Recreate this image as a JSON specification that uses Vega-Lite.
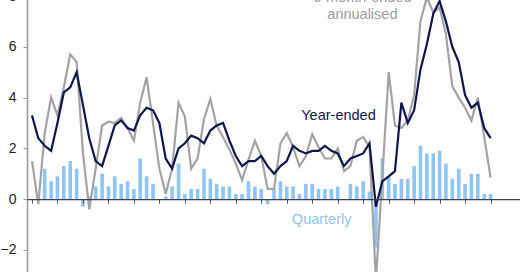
{
  "$schema": "https://vega.github.io/schema/vega-lite/v6.json",
  "width": 493,
  "height": 276,
  "autosize": {"type": "none"},
  "padding": {"left": 27, "top": -4, "right": 0, "bottom": 0},
  "background": "white",
  "config": {
    "view": {"stroke": null},
    "font": "Liberation Sans"
  },
  "datasets": {
    "cpi": [
      {"date": "2006-12-01", "yearEnded": 3.3, "quarterly": 0.0, "sixMonth": 1.5},
      {"date": "2007-03-01", "yearEnded": 2.4, "quarterly": 0.1, "sixMonth": -0.2},
      {"date": "2007-06-01", "yearEnded": 2.1, "quarterly": 1.2, "sixMonth": 2.6},
      {"date": "2007-09-01", "yearEnded": 1.9, "quarterly": 0.7, "sixMonth": 4.0},
      {"date": "2007-12-01", "yearEnded": 3.0, "quarterly": 0.9, "sixMonth": 3.3},
      {"date": "2008-03-01", "yearEnded": 4.2, "quarterly": 1.3, "sixMonth": 4.4},
      {"date": "2008-06-01", "yearEnded": 4.4, "quarterly": 1.5, "sixMonth": 5.7},
      {"date": "2008-09-01", "yearEnded": 5.0, "quarterly": 1.2, "sixMonth": 5.4},
      {"date": "2008-12-01", "yearEnded": 3.7, "quarterly": -0.3, "sixMonth": 1.8},
      {"date": "2009-03-01", "yearEnded": 2.4, "quarterly": 0.1, "sixMonth": -0.4},
      {"date": "2009-06-01", "yearEnded": 1.5, "quarterly": 0.5, "sixMonth": 1.2},
      {"date": "2009-09-01", "yearEnded": 1.3, "quarterly": 1.0, "sixMonth": 2.9},
      {"date": "2009-12-01", "yearEnded": 2.1, "quarterly": 0.5, "sixMonth": 3.05},
      {"date": "2010-03-01", "yearEnded": 2.9, "quarterly": 0.9, "sixMonth": 3.0},
      {"date": "2010-06-01", "yearEnded": 3.1, "quarterly": 0.6, "sixMonth": 3.2},
      {"date": "2010-09-01", "yearEnded": 2.8, "quarterly": 0.7, "sixMonth": 2.8},
      {"date": "2010-12-01", "yearEnded": 2.7, "quarterly": 0.4, "sixMonth": 2.3},
      {"date": "2011-03-01", "yearEnded": 3.3, "quarterly": 1.6, "sixMonth": 3.8},
      {"date": "2011-06-01", "yearEnded": 3.6, "quarterly": 0.9, "sixMonth": 4.8},
      {"date": "2011-09-01", "yearEnded": 3.5, "quarterly": 0.6, "sixMonth": 3.0},
      {"date": "2011-12-01", "yearEnded": 3.0, "quarterly": 0.0, "sixMonth": 1.2},
      {"date": "2012-03-01", "yearEnded": 1.6, "quarterly": 0.1, "sixMonth": 0.2},
      {"date": "2012-06-01", "yearEnded": 1.2, "quarterly": 0.5, "sixMonth": 1.2},
      {"date": "2012-09-01", "yearEnded": 2.0, "quarterly": 1.4, "sixMonth": 3.8},
      {"date": "2012-12-01", "yearEnded": 2.2, "quarterly": 0.2, "sixMonth": 3.25},
      {"date": "2013-03-01", "yearEnded": 2.5, "quarterly": 0.4, "sixMonth": 1.2},
      {"date": "2013-06-01", "yearEnded": 2.4, "quarterly": 0.4, "sixMonth": 1.6},
      {"date": "2013-09-01", "yearEnded": 2.2, "quarterly": 1.2, "sixMonth": 3.15},
      {"date": "2013-12-01", "yearEnded": 2.7, "quarterly": 0.8, "sixMonth": 3.95},
      {"date": "2014-03-01", "yearEnded": 2.9, "quarterly": 0.6, "sixMonth": 2.9},
      {"date": "2014-06-01", "yearEnded": 3.0, "quarterly": 0.5, "sixMonth": 2.45},
      {"date": "2014-09-01", "yearEnded": 2.3, "quarterly": 0.5, "sixMonth": 1.95},
      {"date": "2014-12-01", "yearEnded": 1.7, "quarterly": 0.2, "sixMonth": 1.4},
      {"date": "2015-03-01", "yearEnded": 1.3, "quarterly": 0.2, "sixMonth": 0.75},
      {"date": "2015-06-01", "yearEnded": 1.5, "quarterly": 0.7, "sixMonth": 1.55},
      {"date": "2015-09-01", "yearEnded": 1.5, "quarterly": 0.5, "sixMonth": 2.3},
      {"date": "2015-12-01", "yearEnded": 1.7, "quarterly": 0.4, "sixMonth": 1.7},
      {"date": "2016-03-01", "yearEnded": 1.3, "quarterly": -0.2, "sixMonth": 0.4},
      {"date": "2016-06-01", "yearEnded": 1.0, "quarterly": 0.4, "sixMonth": 0.4},
      {"date": "2016-09-01", "yearEnded": 1.3, "quarterly": 0.7, "sixMonth": 2.2},
      {"date": "2016-12-01", "yearEnded": 1.5, "quarterly": 0.5, "sixMonth": 2.6},
      {"date": "2017-03-01", "yearEnded": 2.1, "quarterly": 0.5, "sixMonth": 2.05},
      {"date": "2017-06-01", "yearEnded": 1.9, "quarterly": 0.2, "sixMonth": 1.3},
      {"date": "2017-09-01", "yearEnded": 1.8, "quarterly": 0.6, "sixMonth": 1.7},
      {"date": "2017-12-01", "yearEnded": 1.9, "quarterly": 0.6, "sixMonth": 2.55},
      {"date": "2018-03-01", "yearEnded": 1.9, "quarterly": 0.4, "sixMonth": 2.05},
      {"date": "2018-06-01", "yearEnded": 2.1, "quarterly": 0.4, "sixMonth": 1.6},
      {"date": "2018-09-01", "yearEnded": 1.9, "quarterly": 0.4, "sixMonth": 1.6},
      {"date": "2018-12-01", "yearEnded": 1.8, "quarterly": 0.5, "sixMonth": 2.0},
      {"date": "2019-03-01", "yearEnded": 1.3, "quarterly": 0.0, "sixMonth": 1.1},
      {"date": "2019-06-01", "yearEnded": 1.6, "quarterly": 0.6, "sixMonth": 1.3},
      {"date": "2019-09-01", "yearEnded": 1.7, "quarterly": 0.5, "sixMonth": 2.3},
      {"date": "2019-12-01", "yearEnded": 1.8, "quarterly": 0.7, "sixMonth": 2.45},
      {"date": "2020-03-01", "yearEnded": 2.2, "quarterly": 0.3, "sixMonth": 2.05},
      {"date": "2020-06-01", "yearEnded": -0.3, "quarterly": -1.9, "sixMonth": -3.2},
      {"date": "2020-09-01", "yearEnded": 0.7, "quarterly": 1.6, "sixMonth": 0.9},
      {"date": "2020-12-01", "yearEnded": 0.9, "quarterly": 0.9, "sixMonth": 5.0},
      {"date": "2021-03-01", "yearEnded": 1.1, "quarterly": 0.6, "sixMonth": 2.9},
      {"date": "2021-06-01", "yearEnded": 3.8, "quarterly": 0.8, "sixMonth": 2.8},
      {"date": "2021-09-01", "yearEnded": 3.0, "quarterly": 0.8, "sixMonth": 3.1},
      {"date": "2021-12-01", "yearEnded": 3.5, "quarterly": 1.3, "sixMonth": 4.1},
      {"date": "2022-03-01", "yearEnded": 5.1, "quarterly": 2.1, "sixMonth": 7.0},
      {"date": "2022-06-01", "yearEnded": 6.1, "quarterly": 1.8, "sixMonth": 7.95},
      {"date": "2022-09-01", "yearEnded": 7.3, "quarterly": 1.8, "sixMonth": 7.35},
      {"date": "2022-12-01", "yearEnded": 7.8, "quarterly": 1.9, "sixMonth": 7.55},
      {"date": "2023-03-01", "yearEnded": 7.0, "quarterly": 1.4, "sixMonth": 6.5},
      {"date": "2023-06-01", "yearEnded": 6.0, "quarterly": 0.8, "sixMonth": 4.45},
      {"date": "2023-09-01", "yearEnded": 5.4, "quarterly": 1.2, "sixMonth": 4.0},
      {"date": "2023-12-01", "yearEnded": 4.1, "quarterly": 0.6, "sixMonth": 3.6},
      {"date": "2024-03-01", "yearEnded": 3.6, "quarterly": 1.0, "sixMonth": 3.1},
      {"date": "2024-06-01", "yearEnded": 3.8, "quarterly": 1.0, "sixMonth": 4.0},
      {"date": "2024-09-01", "yearEnded": 2.8, "quarterly": 0.2, "sixMonth": 2.45},
      {"date": "2024-12-01", "yearEnded": 2.4, "quarterly": 0.2, "sixMonth": 0.85}
    ],
    "labels": [
      {"date": "2018-12-12", "value": 3.12, "text": "Year-ended", "series": "ye"},
      {"date": "2018-04-15", "value": -0.99, "text": "Quarterly", "series": "q"},
      {"date": "2019-11-20", "value": 7.09, "text": "annualised", "series": "sm"},
      {"date": "2019-11-20", "value": 7.76, "text": "6-month-ended", "series": "sm"}
    ]
  },
  "encoding": {
    "x": {
      "field": "date",
      "type": "temporal",
      "title": null,
      "scale": {
        "domain": [
          {"year": 2006, "month": 12, "date": 1, "utc": true},
          {"year": 2025, "month": 11, "date": 16, "utc": true}
        ]
      },
      "axis": {
        "values": [
          {"year": 2006, "month": 12, "date": 1, "utc": true},
          {"year": 2007, "month": 12, "date": 1, "utc": true},
          {"year": 2008, "month": 12, "date": 1, "utc": true},
          {"year": 2009, "month": 12, "date": 1, "utc": true},
          {"year": 2010, "month": 12, "date": 1, "utc": true},
          {"year": 2011, "month": 12, "date": 1, "utc": true},
          {"year": 2012, "month": 12, "date": 1, "utc": true},
          {"year": 2013, "month": 12, "date": 1, "utc": true},
          {"year": 2014, "month": 12, "date": 1, "utc": true},
          {"year": 2015, "month": 12, "date": 1, "utc": true},
          {"year": 2016, "month": 12, "date": 1, "utc": true},
          {"year": 2017, "month": 12, "date": 1, "utc": true},
          {"year": 2018, "month": 12, "date": 1, "utc": true},
          {"year": 2019, "month": 12, "date": 1, "utc": true},
          {"year": 2020, "month": 12, "date": 1, "utc": true},
          {"year": 2021, "month": 12, "date": 1, "utc": true},
          {"year": 2022, "month": 12, "date": 1, "utc": true},
          {"year": 2023, "month": 12, "date": 1, "utc": true},
          {"year": 2024, "month": 12, "date": 1, "utc": true}
        ],
        "labels": false,
        "grid": false,
        "offset": -72.9,
        "domainColor": "#3a4250",
        "domainWidth": 1.2,
        "tickColor": "#555555",
        "tickSize": 4,
        "tickWidth": 1,
        "zindex": 1
      }
    }
  },
  "layer": [
    {
      "data": {"name": "cpi"},
      "mark": {"type": "bar", "color": "#8fc5f3", "width": 3.6},
      "encoding": {
        "y": {
          "field": "quarterly",
          "type": "quantitative",
          "title": null,
          "scale": {"domain": [-2.87, 8], "nice": false, "zero": false},
          "axis": {
            "values": [-2, 0, 2, 4, 6, 8],
            "grid": false,
            "domainColor": "#9c9c9c",
            "domainWidth": 1.6,
            "tickColor": "#9c9c9c",
            "tickSize": 4,
            "labelPadding": 7,
            "labelFontSize": 14,
            "labelColor": "#222222",
            "labelFont": "Liberation Sans"
          }
        }
      }
    },
    {
      "data": {"name": "cpi"},
      "mark": {"type": "line", "color": "#a3a3a3", "strokeWidth": 2.2, "strokeJoin": "miter"},
      "encoding": {
        "y": {"field": "sixMonth", "type": "quantitative"}
      }
    },
    {
      "data": {"name": "cpi"},
      "mark": {"type": "line", "color": "#0c1650", "strokeWidth": 2.2, "strokeJoin": "miter"},
      "encoding": {
        "y": {"field": "yearEnded", "type": "quantitative"}
      }
    },
    {
      "data": {"name": "labels"},
      "mark": {"type": "text", "align": "center", "baseline": "alphabetic", "fontSize": 14.5, "font": "Liberation Sans"},
      "encoding": {
        "y": {"field": "value", "type": "quantitative"},
        "text": {"field": "text"},
        "color": {
          "field": "series",
          "type": "nominal",
          "scale": {"domain": ["ye", "q", "sm"], "range": ["#0c1650", "#8fc5f3", "#9e9e9e"]},
          "legend": null
        }
      }
    }
  ]
}
